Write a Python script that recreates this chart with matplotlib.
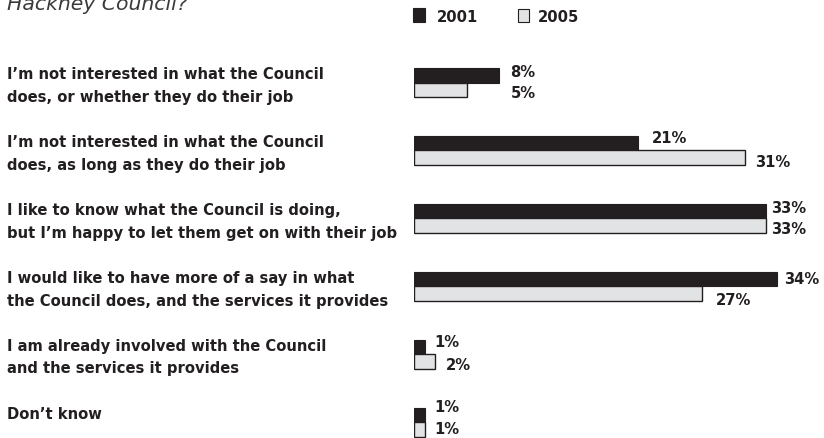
import matplotlib
matplotlib.use("Agg")
import matplotlib.pyplot as plt
from matplotlib.patches import Rectangle
from matplotlib import transforms as mtransforms

# ---- data ----
categories = [
    "I\u2019m not interested in what the Council\ndoes, or whether they do their job",
    "I\u2019m not interested in what the Council\ndoes, as long as they do their job",
    "I like to know what the Council is doing,\nbut I\u2019m happy to let them get on with their job",
    "I would like to have more of a say in what\nthe Council does, and the services it provides",
    "I am already involved with the Council\nand the services it provides",
    "Don\u2019t know",
]
years = ["2001", "2005"]
values_2001 = [8, 21, 33, 34, 1, 1]
values_2005 = [5, 31, 33, 27, 2, 1]
title_tail = "Hackney Council?"

# ---- layout / style ----
W, H, DPI = 824, 438, 100
DARK = "#231f20"
LIGHT = "#e2e3e4"
FONT = "DejaVu Sans"
FS = 10.6

# value-label nudges (pixels): (dx from bar end, dy of glyph centre from bar centre, + = down)
nudge_2001 = [(11, -3.5), (14, -6), (5, -3.5), (7, 0), (10, -5), (10, -8)]
nudge_2005 = [(43, 3), (10, 4), (5, 3.5), (14, 6), (11, 3), (10, -1)]
half_cap = 0.73 * FS * DPI / 72 / 2

fig = plt.figure(figsize=(W / DPI, H / DPI), dpi=DPI)
fig.patch.set_facecolor("white")

x0_px, px_per_pct = 414, 10.67
y0_px, step_px = 82.5, 67.9
ax_w_px = 405
ax = fig.add_axes([x0_px / W, 0, ax_w_px / W, 1])
ax.set_xlim(0, ax_w_px / px_per_pct)
ax.set_ylim((H - y0_px) / step_px, -y0_px / step_px)
ax.axis("off")

bar_h = 14.5 / step_px
ypos = list(range(len(categories)))
ax.barh([y - bar_h / 2 for y in ypos], values_2001, height=bar_h, left=0,
        color=DARK, edgecolor=DARK, linewidth=0.8)
ax.barh([y + bar_h / 2 for y in ypos], values_2005, height=bar_h, left=0,
        color=LIGHT, edgecolor=DARK, linewidth=1.0)

label_kw = dict(fontsize=FS, fontweight="bold", family=FONT, color=DARK,
                va="baseline", ha="left", textcoords="offset pixels")
for y, v, (dx, dy) in zip(ypos, values_2001, nudge_2001):
    ax.annotate(f"{v}%", (v, y - bar_h / 2), xytext=(dx, -(dy + half_cap)), **label_kw)
for y, v, (dx, dy) in zip(ypos, values_2005, nudge_2005):
    ax.annotate(f"{v}%", (v, y + bar_h / 2), xytext=(dx, -(dy + half_cap)), **label_kw)

# category labels on the left, one line at a time
blend = mtransforms.blended_transform_factory(fig.transFigure, ax.transData)
for y, cat in zip(ypos, categories):
    for k, line in enumerate(cat.split("\n")):
        ax.annotate(line, (7 / W, y), xycoords=blend, xytext=(0, 3.5 - 22.8 * k),
                    textcoords="offset pixels", fontsize=FS, fontweight="bold",
                    family=FONT, color=DARK, va="baseline", ha="left")

# heading tail (partially cut at the top edge)
fig.text(7 / W, 1 - 10.5 / H, title_tail, fontsize=14.7, style="italic",
         family=FONT, color="#3a3a3a", va="baseline", ha="left")

# legend
def px_rect(x, y, w, h, **kw):
    fig.patches.append(Rectangle((x / W, 1 - (y + h) / H), w / W, h / H,
                                 transform=fig.transFigure, **kw))

px_rect(413, 8, 12, 14, facecolor=DARK, edgecolor=DARK, linewidth=0.8)
px_rect(518, 9, 11, 13, facecolor=LIGHT, edgecolor=DARK, linewidth=0.8)
fig.text(437 / W, 1 - 21.7 / H, years[0], fontsize=FS, fontweight="bold",
         family=FONT, color=DARK, va="baseline", ha="left")
fig.text(538 / W, 1 - 21.7 / H, years[1], fontsize=FS, fontweight="bold",
         family=FONT, color=DARK, va="baseline", ha="left")

fig.savefig("out.png", dpi=DPI, facecolor="white")
